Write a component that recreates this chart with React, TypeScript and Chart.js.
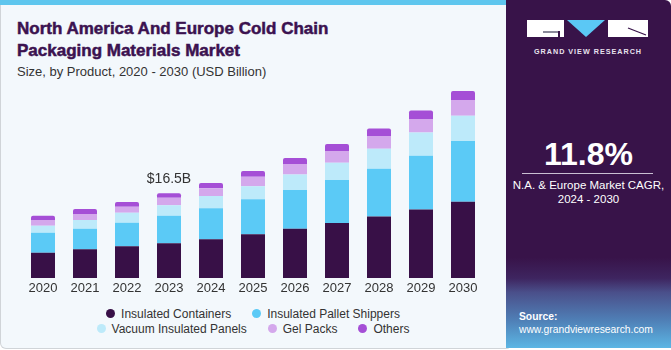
import React, { useEffect, useRef } from "react";
import { Chart, registerables } from "chart.js";

Chart.register(...registerables);

const years = ["2020", "2021", "2022", "2023", "2024", "2025", "2026", "2027", "2028", "2029", "2030"];
const insulatedContainers = [4.93, 5.59, 6.17, 6.76, 7.54, 8.51, 9.6, 10.71, 12.0, 13.36, 14.86];
const insulatedPalletShippers = [3.9, 4.01, 4.6, 5.38, 6.04, 6.82, 7.54, 8.38, 9.29, 10.46, 11.82];
const vacuumInsulatedPanels = [1.36, 1.69, 1.95, 2.03, 2.4, 2.53, 3.04, 3.37, 3.9, 4.54, 4.93];
const gelPacks = [1.11, 1.17, 1.17, 1.48, 1.5, 1.87, 2.03, 2.28, 2.47, 2.61, 3.06];
const others = [0.84, 0.97, 0.92, 0.86, 1.03, 1.11, 1.17, 1.36, 1.48, 1.68, 1.75];
const seriesNames = ["Insulated Containers", "Insulated Pallet Shippers", "Vacuum Insulated Panels", "Gel Packs", "Others"];
const seriesColors = ["#381047", "#5bcaf6", "#bdeafa", "#d4a8ec", "#a54fd6"];
const annotationIndex = 3;
const annotationText = "$16.5B";

const FONT = "'Liberation Sans', Arial, sans-serif";

export default function App() {
  const canvasRef = useRef<HTMLCanvasElement | null>(null);

  useEffect(() => {
    document.body.style.margin = "0";
    const canvas = canvasRef.current;
    if (!canvas) return;
    const allSeries = [insulatedContainers, insulatedPalletShippers, vacuumInsulatedPanels, gelPacks, others];
    const labelPlugin = {
      id: "totalLabel",
      afterDatasetsDraw(chart: any) {
        const meta = chart.getDatasetMeta(chart.data.datasets.length - 1);
        const el = meta.data[annotationIndex];
        if (!el) return;
        const ctx = chart.ctx;
        ctx.save();
        ctx.font = `14px ${FONT}`;
        ctx.fillStyle = "#333333";
        ctx.textAlign = "center";
        ctx.textBaseline = "middle";
        ctx.fillText(annotationText, el.x, el.y - 14);
        ctx.restore();
      },
    };
    const chart = new Chart(canvas, {
      type: "bar",
      data: {
        labels: years,
        datasets: allSeries.map((d, i) => ({
          label: seriesNames[i],
          data: d,
          backgroundColor: seriesColors[i],
          borderWidth: 0,
          borderRadius: i === allSeries.length - 1 ? { topLeft: 2, topRight: 2, bottomLeft: 0, bottomRight: 0 } : 0,
          borderSkipped: false,
          categoryPercentage: 1,
          barPercentage: 24 / 42,
        })),
      },
      options: {
        animation: false,
        responsive: false,
        maintainAspectRatio: false,
        layout: { padding: { left: 22, right: 22, top: 12.7, bottom: 0 } },
        plugins: { legend: { display: false }, tooltip: { enabled: false } },
        scales: {
          x: {
            stacked: true,
            grid: { display: false, drawTicks: false },
            border: { display: false },
            ticks: { color: "#333333", font: { family: FONT, size: 13 }, padding: 3 },
            afterFit: (axis: any) => {
              axis.height = 22;
            },
          },
          y: { stacked: true, display: false, min: 0, max: 40 },
        },
      },
      plugins: [labelPlugin],
    });
    return () => chart.destroy();
  }, []);

  const legendRow = (idx: number[]) => (
    <div style={{ display: "flex", justifyContent: "center", gap: 21, alignItems: "center", height: 15 }}>
      {idx.map((i) => (
        <div key={i} style={{ display: "flex", alignItems: "center" }}>
          <span style={{ width: 9, height: 9, borderRadius: "50%", background: seriesColors[i], display: "inline-block", marginRight: 6 }} />
          <span style={{ fontSize: 12, color: "#333", fontFamily: FONT }}>{seriesNames[i]}</span>
        </div>
      ))}
    </div>
  );

  return (
    <div style={{ position: "fixed", left: 0, top: 0, width: 671, height: 350, background: "#ffffff", overflow: "hidden", fontFamily: FONT }}>
      <div style={{ position: "absolute", left: 0, top: 0, width: 512, height: 349, background: "#f3f8fc", border: "1px solid #d0d4d8", borderTop: "none", borderRadius: "0 0 6px 6px", boxSizing: "border-box" }} />
      <div style={{ position: "absolute", left: 0, top: 0, width: 510, height: 5, background: "#5ec6ee" }} />
      <div style={{ position: "absolute", left: 17, top: 18, fontFamily: FONT, fontWeight: 700, fontSize: 17, lineHeight: "22px", color: "#3b1250", WebkitTextStroke: "0.5px #3b1250" } as any}>
        North America And Europe Cold Chain
        <br />
        Packaging Materials Market
      </div>
      <div style={{ position: "absolute", left: 17, top: 64, fontFamily: FONT, fontSize: 13, color: "#333" }}>
        Size, by Product, 2020 - 2030 (USD Billion)
      </div>
      <canvas ref={canvasRef} width={506} height={240} style={{ position: "absolute", left: 0, top: 60, width: 506, height: 240 }} />
      <div style={{ position: "absolute", left: 0, top: 306, width: 506 }}>
        {legendRow([0, 1])}
        {legendRow([2, 3, 4])}
      </div>
      <div style={{ position: "absolute", left: 506, top: 0, width: 165, height: 348, borderRadius: "0 6px 0 0", overflow: "hidden", background: "linear-gradient(to bottom, #381349 0%, #381349 74%, #3e2560 80%, #4a4f8a 84%, #4f7fb6 92%, #5cb6e4 100%)" }}>
        <svg width={165} height={60} style={{ position: "absolute", left: 0, top: 0 }}>
          <rect x={21} y={20} width={37} height={17} fill="#ffffff" />
          <rect x={37} y={31} width={17} height={2} fill="#8a8a9a" />
          <rect x={52} y={31} width={2} height={6} fill="#381349" />
          <polygon points="61,20 99,20 80,37" fill="#5bc8f5" />
          <rect x={102} y={20} width={40} height={17} fill="#ffffff" />
          <line x1={122} y1={28} x2={140} y2={35} stroke="#381349" strokeWidth={1.2} />
          <text x={82} y={53.5} textAnchor="middle" fill="#e8e2ee" fontFamily={FONT} fontWeight={700} fontSize={7.2} letterSpacing={1}>GRAND VIEW RESEARCH</text>
        </svg>
        <div style={{ position: "absolute", left: 0, width: 165, top: 137, textAlign: "center", color: "#ffffff", fontWeight: 700, fontSize: 32, fontFamily: FONT, lineHeight: "34px" }}>11.8%</div>
        <div style={{ position: "absolute", left: 16, top: 173, width: 131, height: 1, background: "#c9bfd2" }} />
        <div style={{ position: "absolute", left: 0, width: 165, top: 178, textAlign: "center", color: "#ffffff", fontSize: 11.5, lineHeight: "14px", fontFamily: FONT }}>
          N.A. &amp; Europe Market CAGR,
          <br />
          2024 - 2030
        </div>
        <div style={{ position: "absolute", left: 13, top: 310, color: "#ffffff", fontSize: 10.3, lineHeight: "13px", fontFamily: FONT }}>
          <div style={{ fontWeight: 700 }}>Source:</div>
          <div>www.grandviewresearch.com</div>
        </div>
      </div>
    </div>
  );
}
